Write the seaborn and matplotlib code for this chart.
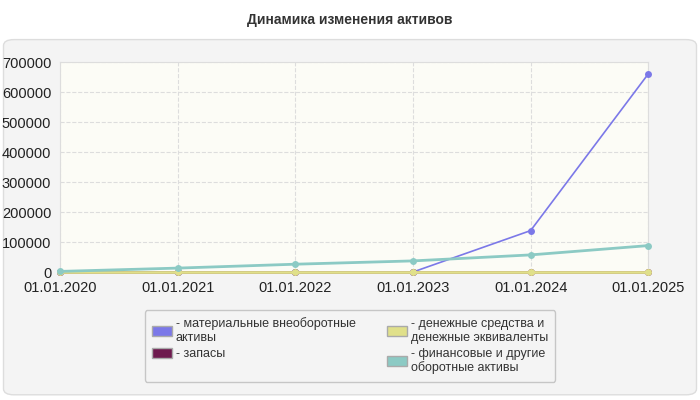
import seaborn as sns
import pandas as pd
import matplotlib.pyplot as plt
from matplotlib.patches import FancyBboxPatch, Patch

dates = ['01.01.2020', '01.01.2021', '01.01.2022', '01.01.2023', '01.01.2024', '01.01.2025']
material = [0, 0, 0, 0, 138000, 660000]
zapasy = [0, 0, 0, 0, 0, 0]
cash = [1500, 1500, 1500, 1500, 1500, 1500]
finance = [2000, 13000, 26000, 37000, 57000, 88000]

names = ['- материальные внеоборотные\nактивы', '- запасы',
         '- денежные средства и\nденежные эквиваленты', '- финансовые и другие\nоборотные активы']
colors = ['#7b78e8', '#6e1a4e', '#e0e08a', '#8ccac4']
series = [material, zapasy, cash, finance]

sns.set_style('white')
plt.rcParams['font.family'] = ['Liberation Sans', 'DejaVu Sans']

fig = plt.figure(figsize=(7, 4), dpi=100)
fig.patch.set_facecolor('white')
bg = FancyBboxPatch((0.005, 0.013), 0.99, 0.888, boxstyle='round,pad=0,rounding_size=0.015',
                    transform=fig.transFigure, facecolor='#f4f4f4', edgecolor='#dddddd', zorder=-10)
fig.patches.append(bg)
fig.text(0.5, 0.95, 'Динамика изменения активов', ha='center', va='center', fontsize=10, fontweight='bold', color='#333333')

ax = fig.add_axes([0.086, 0.32, 0.84, 0.525])
ax.set_zorder(5)
ax.set_facecolor('#fcfcf6')
for s, c in zip(series, colors):
    df = pd.DataFrame({'x': range(len(dates)), 'y': s})
    lw = 2 if c != '#7b78e8' else 1.2
    sns.lineplot(data=df, x='x', y='y', ax=ax, color=c, marker='o', markersize=5,
                 markeredgewidth=0, linewidth=lw, clip_on=False, zorder=3)

ax.set_xlim(0, 5)
ax.set_ylim(0, 700000)
ax.set_xticks(range(len(dates)))
ax.set_xticklabels(dates, fontsize=10.5, color='#222222')
ax.set_yticks(range(0, 700001, 100000))
ax.tick_params(axis='y', labelsize=10.5, colors='#222222', length=3)
ax.tick_params(axis='x', length=3)
ax.grid(True, ls='--', color='#dddddd', lw=0.8)
ax.set_xlabel('')
ax.set_ylabel('тыс.', fontsize=10, fontweight='bold', color='#888888')
for sp in ['top', 'right', 'left']:
    ax.spines[sp].set_color('#dddddd')
ax.spines['bottom'].set_color('#333333')

handles = [Patch(facecolor=c, edgecolor='#aaaaaa', label=n) for c, n in zip(colors, names)]
leg = fig.legend(handles=handles, ncol=2, loc='center', bbox_to_anchor=(0.5, 0.135), frameon=True,
                 fontsize=9, handlelength=1.6, handleheight=0.8, handletextpad=0.3, columnspacing=2.5,
                 labelspacing=0.3, borderpad=0.6)
leg.set_zorder(6)
leg.get_frame().set_edgecolor('#bbbbbb')
leg.get_frame().set_facecolor('#f4f4f4')
for t in leg.get_texts():
    t.set_color('#333333')

fig.savefig('out.png', dpi=100)
